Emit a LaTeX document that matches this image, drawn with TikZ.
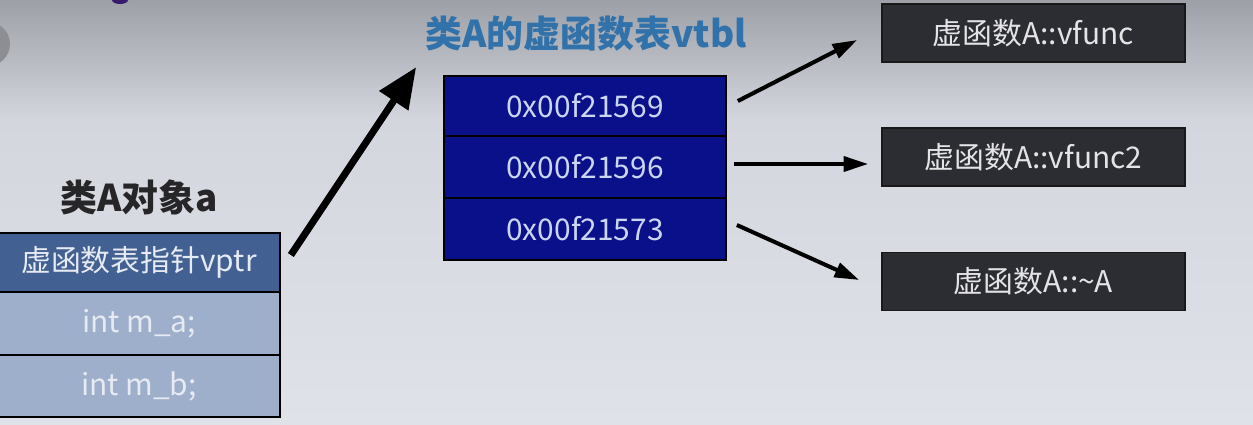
\documentclass[tikz,border=0pt]{standalone}
\usepackage{fontspec}
\setmainfont{Noto Sans CJK SC}
\usetikzlibrary{calc,arrows.meta}
\definecolor{bgtop}{RGB}{158,160,167}
\definecolor{bgmid}{RGB}{211,214,220}
\definecolor{bgbot}{RGB}{223,226,232}
\definecolor{vptrfill}{RGB}{66,96,146}
\definecolor{memfill}{RGB}{158,175,203}
\definecolor{memtext}{RGB}{230,234,242}
\definecolor{navy}{RGB}{10,16,138}
\definecolor{navytext}{RGB}{202,214,240}
\definecolor{funcfill}{RGB}{44,45,51}
\definecolor{functext}{RGB}{228,228,230}
\definecolor{titleblue}{RGB}{50,114,170}
\definecolor{titledark}{RGB}{38,38,40}
\definecolor{circlegray}{RGB}{140,142,147}
\definecolor{blobpurple}{RGB}{58,26,110}
\begin{document}
\begin{tikzpicture}[x=0.02cm,y=-0.02cm,
  cell/.style={draw=black, line width=1pt, inner sep=0pt, font=\fontsize{17pt}{20pt}\selectfont},
  objrow/.style={cell, minimum width=5.64cm, fill=memfill, text=memtext},
  vtblrow/.style={cell, minimum width=5.64cm, minimum height=1.22cm, fill=navy, text=navytext},
  funcbox/.style={cell, draw=black!90, minimum width=6.06cm, minimum height=1.16cm, fill=funcfill, text=functext},
  titletext/.style={font=\fontsize{21pt}{24pt}\selectfont\bfseries, inner sep=0pt},
  bigarrow/.style={line width=4pt, -{Triangle[length=23pt,width=19pt]}},
  ptrarrow/.style={line width=2.3pt, -{Triangle[length=14pt,width=8.5pt]}}
]
\useasboundingbox (0,0) rectangle (1253,424);
% background
\shade[top color=bgtop, bottom color=bgmid] (0,0) rectangle (1253,120);
\shade[top color=bgmid, bottom color=bgbot] (0,120) rectangle (1253,424);
\fill[circlegray] (-12,44) circle [radius=22];
\fill[blobpurple] (120,0) ellipse [x radius=8, y radius=4];

% object a
\node[titletext, text=titledark] (objtitle) at (139,197) {类A对象a};
\node[objrow, minimum height=1.18cm, fill=vptrfill] (vptr) at (139,262.5) {虚函数表指针vptr};
\node[objrow, minimum height=1.26cm] (ma) at (139,323.5) {int m\_a;};
\node[objrow, minimum height=1.24cm] (mb) at (139,386) {int m\_b;};

% vtbl
\node[titletext, text=titleblue] (vtbltitle) at (586,34) {类A的虚函数表vtbl};
\node[vtblrow, minimum height=1.2cm] (v1) at (585,106) {0x00f21569};
\node[vtblrow, minimum height=1.24cm] (v2) at (585,167) {0x00f21596};
\node[vtblrow, minimum height=1.24cm] (v3) at (585,229) {0x00f21573};

% functions
\node[funcbox] (f1) at (1033.5,33) {虚函数A::vfunc};
\node[funcbox] (f2) at (1033.5,157) {虚函数A::vfunc2};
\node[funcbox] (f3) at (1033.5,281.5) {虚函数A::\textasciitilde A};

% arrows
\draw[bigarrow] ($(vptr.east)+(10,-7.5)$) -- ($(v1.north west)+(-27,-8)$);
\draw[ptrarrow] ($(v1.east)+(11,-5)$) -- ($(f1.west)+(-24,7)$);
\draw[ptrarrow] ($(v2.east)+(7,-3)$) -- ($(f2.west)+(-13,7)$);
\draw[ptrarrow] ($(v3.east)+(10,-4)$) -- ($(f3.west)+(-22,-1.5)$);
\end{tikzpicture}
\end{document}
